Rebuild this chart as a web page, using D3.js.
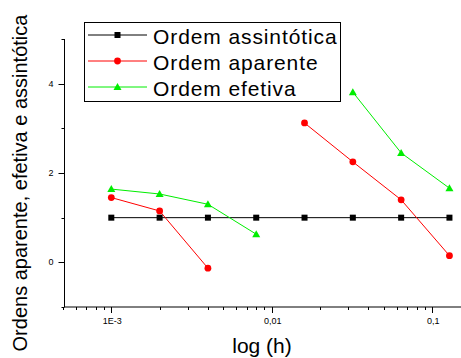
<!DOCTYPE html>
<html>
<head>
<meta charset="utf-8">
<script src="https://cdn.jsdelivr.net/npm/d3@7"></script>
<style>
  body { margin: 0; background: #fff; }
  svg { display: block; font-family: "Liberation Sans", Arial, sans-serif; }
</style>
</head>
<body>
<div id="chart"></div>
<script>
// step sizes h and the three order estimates (null = no point)
const hValues = [0.001, 0.002, 0.004, 0.008, 0.016, 0.032, 0.064, 0.128];
const ordemAssintotica = [1, 1, 1, 1, 1, 1, 1, 1];
const ordemAparente = [1.45, 1.15, -0.13, null, 3.12, 2.25, 1.40, 0.15];
const ordemEfetiva = [1.64, 1.53, 1.30, 0.63, null, 3.81, 2.45, 1.66];

const xTickValues = [0.001, 0.01, 0.1];
const xTickLabels = ['1E-3', '0,01', '0,1'];
const yTickValues = [0, 2, 4];

const seriesNames = ['Ordem assintótica', 'Ordem aparente', 'Ordem efetiva'];

const width = 461, height = 358;

const svg = d3.select('#chart').append('svg')
    .attr('width', width)
    .attr('height', height);

const x = d3.scaleLog()
    .domain([0.0005, 0.15])
    .range([63, 460.5]);

const y = d3.scaleLinear()
    .domain([-1, 5])
    .range([307, 39]);

// minor ticks, 2..9 of each decade inside the domain
let minorX = [];
[0.0001, 0.001, 0.01, 0.1].forEach(dec => {
    for (let m = 2; m <= 9; m++) {
        const v = dec * m;
        if (v >= 0.0005 && v <= 0.15) minorX.push(v);
    }
});

// x axis
const xAxis = svg.append('g').attr('transform', 'translate(0,307)');
xAxis.append('line')
    .attr('x1', 64).attr('x2', 461)
    .attr('stroke', '#000');
xAxis.selectAll('.minor').data(minorX)
    .join('line')
    .attr('x1', d => Math.round(x(d)) + 0.5)
    .attr('x2', d => Math.round(x(d)) + 0.5)
    .attr('y1', 0).attr('y2', 3)
    .attr('stroke', '#000');
xAxis.selectAll('.major').data(xTickValues)
    .join('line')
    .attr('x1', d => Math.round(x(d)) + 0.5)
    .attr('x2', d => Math.round(x(d)) + 0.5)
    .attr('y1', 0).attr('y2', 6)
    .attr('stroke', '#000');
xAxis.selectAll('text').data(xTickValues)
    .join('text')
    .attr('x', d => x(d) + 1)
    .attr('y', 17)
    .attr('text-anchor', 'middle')
    .attr('font-size', 9)
    .text((d, i) => xTickLabels[i]);

// y axis
const minorY = [-1, 1, 3, 5];
const yAxis = svg.append('g').attr('transform', 'translate(64.5,0)');
yAxis.append('line')
    .attr('y1', 39).attr('y2', 307)
    .attr('stroke', '#000');
yAxis.selectAll('.minor').data(minorY)
    .join('line')
    .attr('x1', -3).attr('x2', 0)
    .attr('y1', d => Math.round(y(d)) + 0.5)
    .attr('y2', d => Math.round(y(d)) + 0.5)
    .attr('stroke', '#000');
yAxis.selectAll('.major').data(yTickValues)
    .join('line')
    .attr('x1', -6).attr('x2', 0)
    .attr('y1', d => Math.round(y(d)) + 0.5)
    .attr('y2', d => Math.round(y(d)) + 0.5)
    .attr('stroke', '#000');
yAxis.selectAll('text').data(yTickValues)
    .join('text')
    .attr('x', -11)
    .attr('y', d => y(d) + 3)
    .attr('text-anchor', 'end')
    .attr('font-size', 9)
    .text(d => d);

// axis titles
svg.append('text')
    .attr('x', 262).attr('y', 353)
    .attr('text-anchor', 'middle')
    .attr('font-size', 21)
    .text('log (h)');

svg.append('text')
    .attr('transform', 'translate(27,183) rotate(-90)')
    .attr('text-anchor', 'middle')
    .attr('font-size', 20)
    .text('Ordens aparente, efetiva e assintótica');

// series
const series = [
    { values: ordemAssintotica, color: '#000', marker: 'square' },
    { values: ordemAparente, color: '#ff0000', marker: 'circle' },
    { values: ordemEfetiva, color: '#00ee00', marker: 'triangle' }
];

const line = d3.line()
    .defined(d => d.v !== null)
    .x(d => x(d.h))
    .y(d => y(d.v));

function drawMarker(sel, type, color) {
    if (type === 'square') {
        sel.append('rect')
            .attr('x', -3).attr('y', -3)
            .attr('width', 6).attr('height', 6)
            .attr('fill', color);
    } else if (type === 'circle') {
        sel.append('circle')
            .attr('r', 3.4)
            .attr('fill', color);
    } else {
        sel.append('path')
            .attr('d', 'M0,-4L4,3L-4,3Z')
            .attr('fill', color);
    }
}

series.forEach(s => {
    const pts = hValues.map((h, i) => ({ h: h, v: s.values[i] }));
    svg.append('path')
        .datum(pts)
        .attr('d', line)
        .attr('fill', 'none')
        .attr('stroke', s.color)
        .attr('stroke-width', 1);
});

series.forEach(s => {
    const pts = hValues.map((h, i) => ({ h: h, v: s.values[i] }))
        .filter(d => d.v !== null);
    svg.selectAll(null).data(pts)
        .join('g')
        .attr('transform', d => `translate(${x(d.h)},${y(d.v)})`)
        .each(function () { drawMarker(d3.select(this), s.marker, s.color); });
});

// legend
const legend = svg.append('g');
legend.append('rect')
    .attr('x', 84.5).attr('y', 22.5)
    .attr('width', 256).attr('height', 79)
    .attr('fill', '#fff')
    .attr('stroke', '#000');

seriesNames.forEach((name, i) => {
    const ly = 35 + i * 26;
    legend.append('line')
        .attr('x1', 88).attr('x2', 147)
        .attr('y1', ly).attr('y2', ly)
        .attr('stroke', series[i].color);
    const g = legend.append('g').attr('transform', `translate(117.5,${ly})`);
    drawMarker(g, series[i].marker, series[i].color);
    legend.append('text')
        .attr('x', 153).attr('y', ly + 8.5)
        .attr('font-size', 21)
        .attr('letter-spacing', 0.9)
        .text(name);
});
</script>
</body>
</html>
